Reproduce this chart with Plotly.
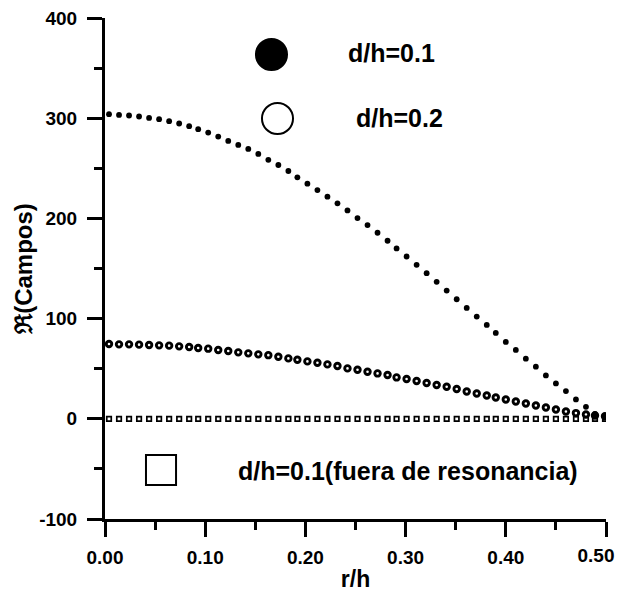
import plotly.graph_objects as go

# Radial position r/h of each computed point
r_h = [0.004, 0.014, 0.024, 0.034, 0.044, 0.054, 0.064, 0.074, 0.084, 0.093,
       0.103, 0.113, 0.123, 0.133, 0.143, 0.153, 0.163, 0.173, 0.183, 0.192,
       0.202, 0.212, 0.222, 0.232, 0.242, 0.252, 0.262, 0.272, 0.282, 0.291,
       0.301, 0.311, 0.321, 0.331, 0.341, 0.351, 0.361, 0.371, 0.381, 0.390,
       0.400, 0.410, 0.420, 0.430, 0.440, 0.450, 0.460, 0.470, 0.480, 0.489,
       0.499]

# Real part of the field, d/h = 0.1 (resonant)
campos_d01 = [304.0, 303.3, 302.7, 301.7, 300.3, 299.0, 297.0, 294.7, 292.0, 289.0,
              285.7, 281.7, 277.3, 273.3, 269.3, 264.3, 258.5, 253.3, 247.3, 241.0,
              234.7, 228.3, 221.7, 215.0, 208.0, 200.3, 193.3, 185.7, 177.7, 170.0,
              162.0, 153.7, 145.3, 136.7, 128.0, 119.3, 110.7, 102.0, 93.7, 85.7,
              76.7, 68.7, 60.0, 52.0, 43.3, 35.3, 27.7, 19.3, 12.0, 5.0,
              2.0]

# Real part of the field, d/h = 0.2
campos_d02 = [74.7, 74.3, 74.3, 74.0, 73.7, 73.3, 73.0, 72.3, 71.7, 70.7,
              70.0, 68.7, 67.7, 66.3, 65.3, 64.3, 63.5, 62.0, 60.3, 59.0,
              57.3, 56.0, 54.3, 52.7, 50.3, 49.0, 47.0, 45.3, 43.7, 41.3,
              39.7, 37.7, 35.7, 33.7, 32.0, 29.7, 27.3, 25.3, 23.3, 21.3,
              19.3, 17.3, 15.3, 13.3, 11.3, 9.3, 7.3, 5.7, 4.3, 3.3,
              2.5]

# Real part of the field, d/h = 0.1 away from resonance
campos_fuera = [0.0] * 51

x_ticks = [0.0, 0.1, 0.2, 0.3, 0.4, 0.5]
x_tick_text = ["0.00", "0.10", "0.20", "0.30", "0.40", "0.50"]
y_ticks = [-100, 0, 100, 200, 300, 400]
y_tick_text = ["-100", "0", "100", "200", "300", "400"]

legend_labels = ["d/h=0.1", "d/h=0.2", "d/h=0.1(fuera de resonancia)"]

FONT = "Liberation Sans, Arial, Helvetica, sans-serif"

fig = go.Figure()

# The off-resonance series uses the overlay x axis (same scale as x)
fig.add_trace(go.Scatter(
    x=r_h, y=campos_fuera, mode="markers", name=legend_labels[2],
    xaxis="x2", yaxis="y",
    marker=dict(symbol="square-open", size=4.5, color="black",
                line=dict(width=1.7, color="black")),
))
fig.add_trace(go.Scatter(
    x=r_h, y=campos_d02, mode="markers", name=legend_labels[1],
    marker=dict(symbol="circle-open", size=5.5, color="black",
                line=dict(width=2.9, color="black")),
))
fig.add_trace(go.Scatter(
    x=r_h, y=campos_d01, mode="markers", name=legend_labels[0],
    marker=dict(symbol="circle", size=5.8, color="black", line=dict(width=0)),
))

tick_font = dict(family=FONT, size=19, color="black", weight="bold")
axis_common = dict(
    showgrid=False, zeroline=False, showline=True, linecolor="black",
    linewidth=3, ticks="outside", ticklen=15, tickwidth=3, tickcolor="black",
    tickfont=tick_font, automargin=False,
)

# Main x axis: the last label is left blank and drawn by the overlay axis below
fig.update_layout(xaxis=dict(
    range=[0, 0.5], tickvals=x_ticks, ticktext=x_tick_text[:-1] + [""],
    ticklabelstandoff=4,
    minor=dict(dtick=0.05, tick0=0, ticks="outside", ticklen=8, tickwidth=2.5,
               tickcolor="black"),
    title=dict(text="r/h", standoff=5,
               font=dict(family=FONT, size=23, color="black", weight="bold")),
    **axis_common,
))

# Overlay axis carrying only the end label, set to the left of its tick
fig.update_layout(xaxis2=dict(
    overlaying="x", matches="x", anchor="y", side="bottom", range=[0, 0.5],
    tickvals=x_ticks[-1:], ticktext=x_tick_text[-1:],
    ticks="outside", ticklen=15, tickwidth=3, tickcolor="rgba(0,0,0,0)",
    ticklabelposition="outside left", ticklabelshift=10, ticklabelstandoff=19,
    tickfont=tick_font, showline=False, showgrid=False, zeroline=False,
    automargin=False,
))

fig.update_yaxes(
    range=[-100, 400], tickvals=y_ticks, ticktext=y_tick_text,
    ticklabelstandoff=6,
    minor=dict(dtick=50, tick0=0, ticks="outside", ticklen=8, tickwidth=2.5,
               tickcolor="black"),
    title=dict(text="\u211c(Campos)", standoff=0,
               font=dict(family=FONT, size=24, color="black", weight="bold")),
    **axis_common,
)

# In-plot key: symbols drawn as shapes in plot-area fractions
shapes = [
    dict(type="circle", xref="paper", yref="paper",
         x0=0.3013, x1=0.3633, y0=0.8961, y1=0.9581,
         fillcolor="black", line=dict(color="black", width=2)),
    dict(type="circle", xref="paper", yref="paper",
         x0=0.3133, x1=0.3753, y0=0.7684, y1=0.8304,
         fillcolor="white", line=dict(color="black", width=2)),
    dict(type="rect", xref="paper", yref="paper",
         x0=0.0818, x1=0.1418, y0=0.0678, y1=0.1278,
         fillcolor="white", line=dict(color="black", width=2)),
]

key_font = dict(family=FONT, size=25, color="black", weight="bold")
annotations = [
    dict(text=legend_labels[0], xref="paper", yref="paper", x=0.481, y=0.930,
         xanchor="left", yanchor="middle", showarrow=False, font=key_font),
    dict(text=legend_labels[1], xref="paper", yref="paper", x=0.497, y=0.800,
         xanchor="left", yanchor="middle", showarrow=False, font=key_font),
    dict(text=legend_labels[2], xref="paper", yref="paper", x=0.261, y=0.096,
         xanchor="left", yanchor="middle", showarrow=False, font=key_font),
]

fig.update_layout(
    width=619, height=597,
    margin=dict(l=105, r=13, t=18, b=78),
    plot_bgcolor="white", paper_bgcolor="white",
    showlegend=False,
    shapes=shapes, annotations=annotations,
)

fig.write_html("out.html")
